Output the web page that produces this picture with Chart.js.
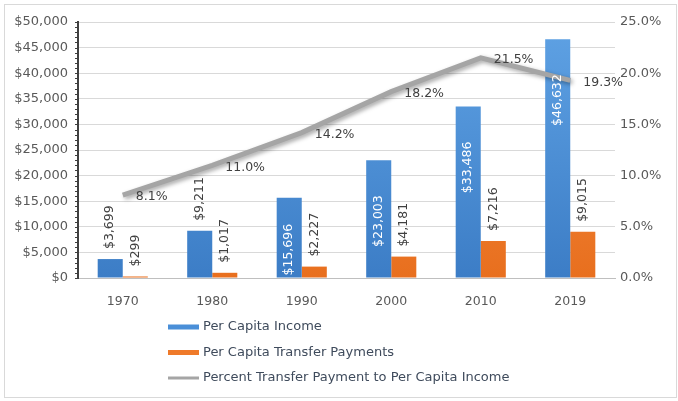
<!DOCTYPE html>
<html>
<head>
<meta charset="utf-8">
<script src="https://cdn.jsdelivr.net/npm/chart.js"></script>
<style>
  body { margin: 0; background: #fff; }
  #wrap { width: 678px; height: 401px; position: relative; }
</style>
</head>
<body>
<div id="wrap"><canvas id="myChart" width="678" height="401"></canvas></div>
<script>
// income vs transfer payments, per capita
const years = ['1970', '1980', '1990', '2000', '2010', '2019'];
const perCapitaIncome = [3699, 9211, 15696, 23003, 33486, 46632];
const perCapitaTransfer = [299, 1017, 2227, 4181, 7216, 9015];
const transferPercent = [8.1, 11.0, 14.2, 18.2, 21.5, 19.3];

const dollarMax = 50000, dollarStep = 5000;
const pctMax = 25, pctStep = 5;

const legendNames = [
  'Per Capita Income',
  'Per Capita Transfer Payments',
  'Percent Transfer Payment to Per Capita Income'
];

const FONT = 'DejaVu Sans';
Chart.defaults.font.family = FONT;
Chart.defaults.color = '#595959';

function money(v) {
  return '$' + v.toLocaleString('en-US');
}

function barFill(top, bottom) {
  return (c) => {
    const area = c.chart.chartArea;
    if (!area) return bottom;
    const g = c.chart.ctx.createLinearGradient(0, area.top, 0, area.bottom);
    g.addColorStop(0, top);
    g.addColorStop(1, bottom);
    return g;
  };
}

// soft drop shadow under the percent line
const lineShadow = {
  id: 'lineShadow',
  beforeDatasetDraw(chart, args) {
    if (chart.data.datasets[args.index].type !== 'line') return;
    const ctx = chart.ctx;
    ctx.save();
    ctx.shadowColor = 'rgba(0,0,0,0.35)';
    ctx.shadowBlur = 4;
    ctx.shadowOffsetX = 2;
    ctx.shadowOffsetY = 2;
  },
  afterDatasetDraw(chart, args) {
    if (chart.data.datasets[args.index].type !== 'line') return;
    chart.ctx.restore();
  }
};

// minor tick marks on the left axis
const minorTicks = {
  id: 'minorTicks',
  afterDraw(chart) {
    const y = chart.scales.y;
    const ctx = chart.ctx;
    ctx.save();
    ctx.strokeStyle = '#404040';
    ctx.lineWidth = 1;
    ctx.beginPath();
    for (let v = 0; v <= dollarMax; v += 1000) {
      const py = Math.round(y.getPixelForValue(v)) + 0.5;
      ctx.moveTo(y.right - 3, py);
      ctx.lineTo(y.right + 1, py);
    }
    ctx.stroke();
    ctx.restore();
  }
};

// value labels on bars and line points
const valueLabels = {
  id: 'valueLabels',
  afterDatasetsDraw(chart) {
    const ctx = chart.ctx;
    ctx.save();
    ctx.font = '12.5px ' + FONT;
    chart.data.datasets.forEach((ds, i) => {
      const meta = chart.getDatasetMeta(i);
      meta.data.forEach((el, j) => {
        const v = ds.data[j];
        if (ds.type === 'line') {
          ctx.fillStyle = '#404040';
          ctx.textAlign = 'left';
          ctx.textBaseline = 'middle';
          ctx.fillText(v.toFixed(1) + '%', el.x + 13, el.y + 2);
          return;
        }
        const txt = money(v);
        const w = ctx.measureText(txt).width;
        const h = el.base - el.y;
        ctx.save();
        ctx.textBaseline = 'middle';
        if (h > w + 20) {
          // tall bars: white label inside, hanging below the top
          const mid = Math.min(el.y + 35 + w / 2, el.base - w / 2 - 2);
          ctx.translate(el.x, mid);
          ctx.rotate(-Math.PI / 2);
          ctx.textAlign = 'center';
          ctx.fillStyle = '#ffffff';
          ctx.fillText(txt, 0, 0);
        } else {
          ctx.translate(el.x, el.y - 10);
          ctx.rotate(-Math.PI / 2);
          ctx.textAlign = 'left';
          ctx.fillStyle = '#404040';
          ctx.fillText(txt, 0, 0);
        }
        ctx.restore();
      });
    });
    ctx.restore();
  }
};

// stacked legend under the axis plus outer frame
const sideLegend = {
  id: 'sideLegend',
  afterDraw(chart) {
    const ctx = chart.ctx;
    const swatches = [
      { color: '#4a8fd8', h: 5 },
      { color: '#ef7a2a', h: 5 },
      { color: '#a5a5a5', h: 3 }
    ];
    ctx.save();
    ctx.font = '13px ' + FONT;
    ctx.textBaseline = 'middle';
    ctx.textAlign = 'left';
    legendNames.forEach((name, i) => {
      const cy = 327 + i * 25.5;
      ctx.fillStyle = swatches[i].color;
      ctx.fillRect(168, cy - swatches[i].h / 2, 31, swatches[i].h);
      ctx.fillStyle = '#3f4b5c';
      ctx.fillText(name, 203, cy);
    });
    ctx.strokeStyle = '#d9d9d9';
    ctx.lineWidth = 1;
    ctx.strokeRect(4.5, 4.5, 672, 393);
    ctx.restore();
  }
};

const ctx = document.getElementById('myChart').getContext('2d');
new Chart(ctx, {
  data: {
    labels: years,
    datasets: [
      {
        type: 'line',
        label: legendNames[2],
        data: transferPercent,
        yAxisID: 'y1',
        borderColor: '#a5a5a5',
        borderWidth: 5,
        pointRadius: 0,
        tension: 0,
        order: 0
      },
      {
        type: 'bar',
        label: legendNames[0],
        data: perCapitaIncome,
        yAxisID: 'y',
        backgroundColor: barFill('#5fa2e4', '#3c7dc6'),
        categoryPercentage: 0.56,
        barPercentage: 1,
        order: 1
      },
      {
        type: 'bar',
        label: legendNames[1],
        data: perCapitaTransfer,
        yAxisID: 'y',
        backgroundColor: barFill('#f7924a', '#e86f1e'),
        categoryPercentage: 0.56,
        barPercentage: 1,
        order: 1
      }
    ]
  },
  options: {
    responsive: false,
    animation: false,
    layout: { padding: { top: 22, right: 0, bottom: 93, left: 0 } },
    plugins: {
      legend: { display: false },
      tooltip: { enabled: false }
    },
    scales: {
      x: {
        grid: { display: false },
        border: { color: '#bfbfbf' },
        ticks: { font: { size: 12.5 }, padding: 8 },
        afterFit(s) { s.height = 30; }
      },
      y: {
        position: 'left',
        min: 0,
        max: dollarMax,
        ticks: {
          stepSize: dollarStep,
          padding: 10,
          font: { size: 13 },
          callback: (v) => money(v)
        },
        grid: { color: '#d9d9d9', drawTicks: false },
        border: { color: '#404040', width: 2 },
        afterFit(s) { s.width = 78; }
      },
      y1: {
        position: 'right',
        min: 0,
        max: pctMax,
        ticks: {
          stepSize: pctStep,
          padding: 5,
          font: { size: 13 },
          callback: (v) => v.toFixed(1) + '%'
        },
        grid: { display: false, drawTicks: false },
        border: { display: false },
        afterFit(s) { s.width = 63; }
      }
    }
  },
  plugins: [lineShadow, minorTicks, valueLabels, sideLegend]
});
</script>
</body>
</html>
